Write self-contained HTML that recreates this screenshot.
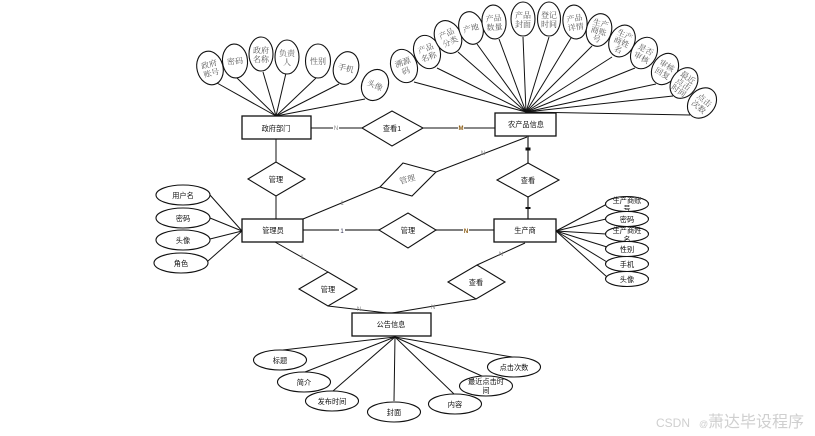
<!DOCTYPE html>
<html lang="zh">
<head>
<meta charset="utf-8">
<style>
html,body{margin:0;padding:0;background:#fff;width:815px;height:436px;overflow:hidden}
svg{display:block}
.l line{stroke:#111;stroke-width:1}
.t line{stroke:#555;stroke-width:1.6}
ellipse,rect,polygon{fill:#fff;stroke:#111;stroke-width:1.1}
rect{stroke-width:1.3}
text{font-family:"Liberation Sans","Noto Sans CJK SC",sans-serif;font-size:7.2px;fill:#111;text-anchor:middle;stroke:none}
.s text,text.s{font-family:"Liberation Serif","Noto Serif CJK SC",serif;fill:#555;font-size:8px}
.m{font-size:6px;fill:#888}
.o{font-size:6px;fill:#8a5a10;font-weight:bold}
.w{fill:#cfcfcf;text-anchor:start}
</style>
</head>
<body>
<svg width="815" height="436" viewBox="0 0 815 436" xmlns="http://www.w3.org/2000/svg">
<g class="l">
<line x1="276" y1="116" x2="217" y2="83"/><line x1="276" y1="116" x2="237" y2="78"/><line x1="276" y1="116" x2="263" y2="72"/><line x1="276" y1="116" x2="286" y2="73"/><line x1="276" y1="116" x2="316" y2="78"/><line x1="276" y1="116" x2="339" y2="84"/><line x1="276" y1="116" x2="365" y2="99"/>
<line x1="526" y1="112" x2="414" y2="82"/><line x1="526" y1="112" x2="437" y2="68"/><line x1="526" y1="112" x2="458" y2="52"/><line x1="526" y1="112" x2="477" y2="44"/><line x1="526" y1="112" x2="499" y2="39"/><line x1="526" y1="112" x2="523" y2="37"/><line x1="526" y1="112" x2="549" y2="37"/><line x1="526" y1="112" x2="571" y2="38"/><line x1="526" y1="112" x2="592" y2="46"/><line x1="526" y1="112" x2="612" y2="57"/><line x1="526" y1="112" x2="635" y2="68"/><line x1="526" y1="112" x2="656" y2="84"/><line x1="526" y1="112" x2="673" y2="96"/><line x1="526" y1="112" x2="690" y2="115"/>
<line x1="311" y1="128" x2="362" y2="128"/><line x1="423" y1="128" x2="495" y2="128"/>
<line x1="276" y1="139" x2="276" y2="219"/>
<line x1="242" y1="231" x2="210" y2="195"/><line x1="242" y1="231" x2="210" y2="218"/><line x1="242" y1="231" x2="210" y2="239"/><line x1="242" y1="231" x2="208" y2="261"/>
<line x1="303" y1="219" x2="380" y2="187"/><line x1="436" y1="172" x2="527" y2="137"/>
<line x1="275" y1="242" x2="328" y2="272"/><line x1="328" y1="306" x2="387" y2="313"/>
<line x1="476" y1="299" x2="392" y2="313"/><line x1="477" y1="265" x2="525" y2="243"/>
<line x1="556" y1="231" x2="607" y2="204"/><line x1="556" y1="231" x2="606" y2="219"/><line x1="556" y1="231" x2="606" y2="234"/><line x1="556" y1="231" x2="607" y2="247"/><line x1="556" y1="231" x2="607" y2="262"/><line x1="556" y1="231" x2="607" y2="277"/>
<line x1="395" y1="337" x2="283" y2="350"/><line x1="395" y1="337" x2="305" y2="372"/><line x1="395" y1="337" x2="333" y2="391"/><line x1="395" y1="337" x2="394" y2="401"/><line x1="395" y1="337" x2="454" y2="394"/><line x1="395" y1="337" x2="484" y2="377"/><line x1="395" y1="337" x2="518" y2="358"/>
</g>
<g class="t">
<line x1="303" y1="230" x2="379" y2="230"/><line x1="436" y1="230" x2="494" y2="230"/>
<line x1="528" y1="136" x2="528" y2="163"/><line x1="528" y1="197" x2="528" y2="219"/>
</g>

<g class="s">
<g transform="translate(210,68) rotate(-15)"><ellipse rx="13" ry="17"/><text y="-1">政府</text><text y="8">账号</text></g>
<g transform="translate(235,61) rotate(-5)"><ellipse rx="12.5" ry="17"/><text y="3">密码</text></g>
<g transform="translate(261,54)"><ellipse rx="12" ry="17"/><text y="-1">政府</text><text y="8">名称</text></g>
<g transform="translate(287,57)"><ellipse rx="12" ry="17"/><text y="-1">负责</text><text y="8">人</text></g>
<g transform="translate(318,61)"><ellipse rx="12.5" ry="17"/><text y="3">性别</text></g>
<g transform="translate(346,68) rotate(15)"><ellipse rx="12.5" ry="16.5"/><text y="3">手机</text></g>
<g transform="translate(375,85) rotate(25)"><ellipse rx="13" ry="16"/><text y="3">头像</text></g>

<g transform="translate(404,66) rotate(-20)"><ellipse rx="13" ry="17"/><text y="-1">溯源</text><text y="8">码</text></g>
<g transform="translate(427,52) rotate(-20)"><ellipse rx="13" ry="17"/><text y="-1">产品</text><text y="8">名称</text></g>
<g transform="translate(448,37) rotate(-25)"><ellipse rx="13" ry="17"/><text y="-1">产品</text><text y="8">分类</text></g>
<g transform="translate(471,28) rotate(-15)"><ellipse rx="12" ry="16.5"/><text y="3">产地</text></g>
<g transform="translate(494,22) rotate(-5)"><ellipse rx="12" ry="17"/><text y="-1">产品</text><text y="8">数量</text></g>
<g transform="translate(523,19)"><ellipse rx="12" ry="17"/><text y="-1">产品</text><text y="8">封面</text></g>
<g transform="translate(549,19)"><ellipse rx="11.5" ry="17"/><text y="-1">登记</text><text y="8">时间</text></g>
<g transform="translate(575,22) rotate(-8)"><ellipse rx="12" ry="17"/><text y="-1">产品</text><text y="8">详情</text></g>
<g transform="translate(599,30) rotate(15)"><ellipse rx="12.5" ry="16.5"/><text y="-4">生产</text><text y="4">商账</text><text y="12">号</text></g>
<g transform="translate(622,41) rotate(25)"><ellipse rx="12.5" ry="16.5"/><text y="-4">生产</text><text y="4">商姓</text><text y="12">名</text></g>
<g transform="translate(644,53) rotate(28)"><ellipse rx="12.5" ry="16.5"/><text y="-1">是否</text><text y="8">审核</text></g>
<g transform="translate(665,69) rotate(30)"><ellipse rx="12.5" ry="16.5"/><text y="-1">审核</text><text y="8">回复</text></g>
<g transform="translate(684,83) rotate(35)"><ellipse rx="12.5" ry="16.5"/><text y="-4">最近</text><text y="4">点击</text><text y="12">时间</text></g>
<g transform="translate(702,103) rotate(40)"><ellipse rx="13" ry="16.5"/><text y="-1">点击</text><text y="8">次数</text></g>
</g>

<rect x="242" y="116" width="69" height="23"/><text x="276" y="131">政府部门</text>
<rect x="495" y="113" width="61" height="23"/><text x="526" y="127">农产品信息</text>
<rect x="242" y="219" width="61" height="23"/><text x="273" y="233">管理员</text>
<rect x="494" y="219" width="62" height="23"/><text x="525" y="233">生产商</text>
<rect x="352" y="313" width="79" height="23"/><text x="391" y="327">公告信息</text>

<polygon points="362,128 392,111 423,128 392,146"/><text x="392" y="131">查看1</text>
<polygon points="248,179 276,162 305,179 276,196"/><text x="276" y="182">管理</text>
<polygon points="379,230 408,213 436,230 408,248"/><text x="408" y="233">管理</text>
<polygon points="497,180 528,163 559,180 528,197"/><text x="528" y="183">查看</text>
<polygon points="403,163 436,172 412,196 380,187"/><text class="s" x="0" y="0" transform="translate(408,182) rotate(-15)">管理</text>
<polygon points="299,289 328,272 357,289 328,306"/><text x="328" y="292">管理</text>
<polygon points="448,282 477,265 505,282 476,299"/><text x="476" y="285">查看</text>

<g>
<ellipse cx="183" cy="195" rx="27" ry="10"/><text x="183" y="198">用户名</text>
<ellipse cx="183" cy="218" rx="27" ry="10"/><text x="183" y="221">密码</text>
<ellipse cx="183" cy="240" rx="27" ry="10"/><text x="183" y="243">头像</text>
<ellipse cx="181" cy="263" rx="27" ry="10"/><text x="181" y="266">角色</text>

<ellipse cx="627" cy="204" rx="21.5" ry="7.5"/><text x="627" y="203">生产商账</text><text x="627" y="211">号</text>
<ellipse cx="627" cy="219" rx="21.5" ry="7.5"/><text x="627" y="222">密码</text>
<ellipse cx="627" cy="234" rx="21.5" ry="7.5"/><text x="627" y="233">生产商姓</text><text x="627" y="242">名</text>
<ellipse cx="627" cy="249" rx="21.5" ry="7.5"/><text x="627" y="252">性别</text>
<ellipse cx="627" cy="264" rx="21.5" ry="7.5"/><text x="627" y="267">手机</text>
<ellipse cx="627" cy="279" rx="21.5" ry="7.5"/><text x="627" y="282">头像</text>

<ellipse cx="280" cy="360" rx="26.5" ry="10"/><text x="280" y="363">标题</text>
<ellipse cx="304" cy="382" rx="26.5" ry="10"/><text x="304" y="385">简介</text>
<ellipse cx="332" cy="401" rx="26.5" ry="10"/><text x="332" y="404">发布时间</text>
<ellipse cx="394" cy="412" rx="26.5" ry="10"/><text x="394" y="415">封面</text>
<ellipse cx="455" cy="404" rx="26.5" ry="10"/><text x="455" y="407">内容</text>
<ellipse cx="486" cy="386" rx="26.5" ry="10"/><text x="486" y="384">最近点击时</text><text x="486" y="393">间</text>
<ellipse cx="514" cy="367" rx="26.5" ry="10"/><text x="514" y="370">点击次数</text>
</g>

<rect x="333" y="125" width="6" height="6" style="fill:#fff;stroke:none"/><text class="m" x="336" y="130">N</text>
<rect x="458" y="125" width="6" height="6" style="fill:#fff;stroke:none"/><text class="o" x="461" y="130">M</text>
<rect x="525.500" y="147.500" width="5" height="3" style="fill:#111;stroke:none"/>
<rect x="525.500" y="207" width="5" height="2" style="fill:#111;stroke:none"/>
<rect x="339" y="228" width="6" height="5" style="fill:#fff;stroke:none"/><text x="342" y="233" style="font-size:6px;fill:#335">1</text>
<rect x="463" y="227" width="6" height="6" style="fill:#fff;stroke:none"/><text class="o" x="466" y="233">N</text>
<text class="m" x="483" y="155">N</text>
<text class="m" x="342" y="205">1</text>
<text class="m" x="302" y="259">1</text>
<text class="m" x="359" y="311">N</text>
<text class="m" x="433" y="309">N</text>
<text class="m" x="501" y="256">N</text>

<text class="w" x="656" y="427" style="font-size:12px">CSDN<tspan x="699" style="font-size:9px">@</tspan><tspan x="708" style="font-size:16px">萧达毕设程序</tspan></text>
</svg>
</body>
</html>
